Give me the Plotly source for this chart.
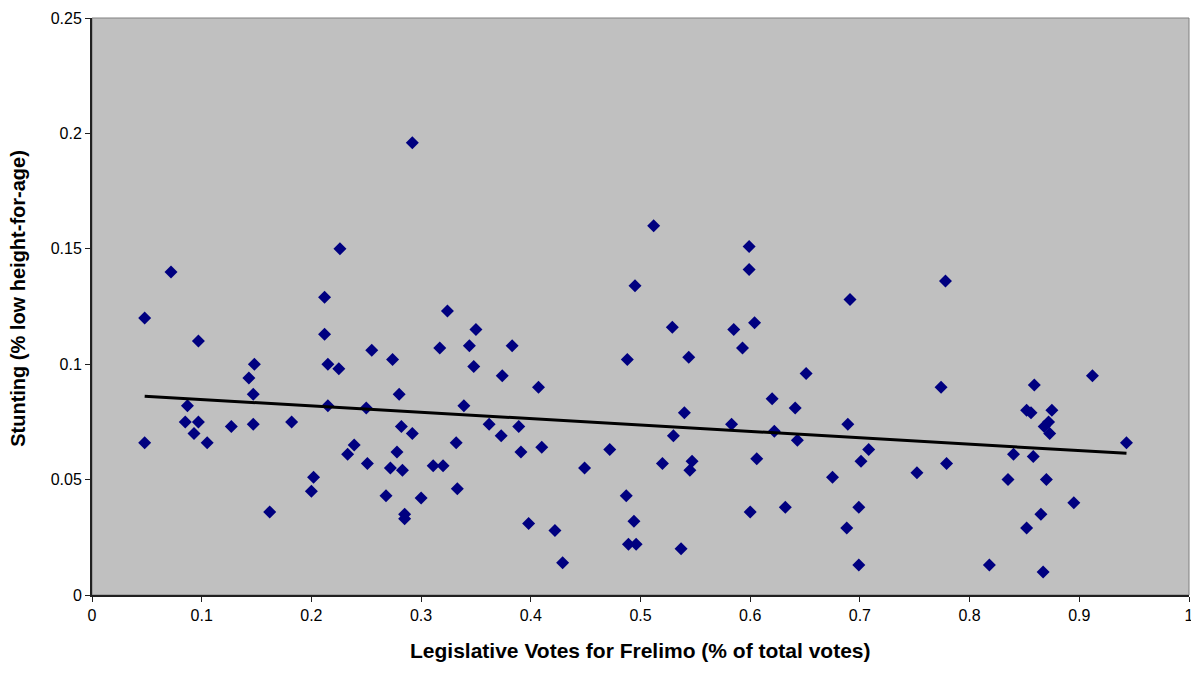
import numpy as np
import plotly.graph_objects as go

votes = [0.048, 0.048, 0.072, 0.085, 0.087, 0.093, 0.097, 0.097, 0.105, 0.127,
         0.143, 0.147, 0.148, 0.147, 0.162, 0.182, 0.200, 0.202, 0.212, 0.212,
         0.215, 0.215, 0.225, 0.226, 0.233, 0.239, 0.250, 0.251, 0.255, 0.268,
         0.272, 0.274, 0.278, 0.280, 0.282, 0.283, 0.285, 0.285, 0.292, 0.292,
         0.300, 0.311, 0.317, 0.320, 0.324, 0.332, 0.333, 0.339, 0.344, 0.348,
         0.350, 0.362, 0.373, 0.374, 0.383, 0.389, 0.391, 0.398, 0.407, 0.410,
         0.422, 0.429, 0.449, 0.472, 0.487, 0.488, 0.489, 0.494, 0.495, 0.496,
         0.512, 0.520, 0.529, 0.530, 0.537, 0.540, 0.544, 0.545, 0.547, 0.583,
         0.585, 0.593, 0.599, 0.599, 0.600, 0.604, 0.606, 0.620, 0.622, 0.632,
         0.641, 0.643, 0.651, 0.675, 0.688, 0.689, 0.691, 0.699, 0.699, 0.701,
         0.708, 0.752, 0.774, 0.778, 0.779, 0.818, 0.835, 0.840, 0.852, 0.852,
         0.856, 0.858, 0.859, 0.865, 0.867, 0.868, 0.870, 0.872, 0.873, 0.875,
         0.895, 0.912, 0.943]

stunting = [0.120, 0.066, 0.140, 0.075, 0.082, 0.070, 0.075, 0.110, 0.066, 0.073,
            0.094, 0.087, 0.100, 0.074, 0.036, 0.075, 0.045, 0.051, 0.129, 0.113,
            0.100, 0.082, 0.098, 0.150, 0.061, 0.065, 0.081, 0.057, 0.106, 0.043,
            0.055, 0.102, 0.062, 0.087, 0.073, 0.054, 0.035, 0.033, 0.196, 0.070,
            0.042, 0.056, 0.107, 0.056, 0.123, 0.066, 0.046, 0.082, 0.108, 0.099,
            0.115, 0.074, 0.069, 0.095, 0.108, 0.073, 0.062, 0.031, 0.090, 0.064,
            0.028, 0.014, 0.055, 0.063, 0.043, 0.102, 0.022, 0.032, 0.134, 0.022,
            0.160, 0.057, 0.116, 0.069, 0.020, 0.079, 0.103, 0.054, 0.058, 0.074,
            0.115, 0.107, 0.151, 0.141, 0.036, 0.118, 0.059, 0.085, 0.071, 0.038,
            0.081, 0.067, 0.096, 0.051, 0.029, 0.074, 0.128, 0.038, 0.013, 0.058,
            0.063, 0.053, 0.090, 0.136, 0.057, 0.013, 0.050, 0.061, 0.080, 0.029,
            0.079, 0.060, 0.091, 0.035, 0.010, 0.073, 0.050, 0.075, 0.070, 0.080,
            0.040, 0.095, 0.066]

x_ticks = [0, 0.1, 0.2, 0.3, 0.4, 0.5, 0.6, 0.7, 0.8, 0.9, 1]
x_tick_labels = ["0", "0.1", "0.2", "0.3", "0.4", "0.5", "0.6", "0.7", "0.8", "0.9", "1"]
y_ticks = [0, 0.05, 0.1, 0.15, 0.2, 0.25]
y_tick_labels = ["0", "0.05", "0.1", "0.15", "0.2", "0.25"]

x_title = "Legislative Votes for Frelimo (% of total votes)"
y_title = "Stunting (% low height-for-age)"

vx = np.array(votes)
vy = np.array(stunting)
slope, intercept = np.polyfit(vx, vy, 1)
tx = np.array([vx.min(), vx.max()])
ty = slope * tx + intercept

fig = go.Figure()
fig.add_trace(go.Scatter(
    x=votes, y=stunting, mode="markers",
    marker=dict(symbol="diamond", size=10, color="#000080",
                line=dict(width=0)),
    showlegend=False, hoverinfo="x+y"))
fig.add_trace(go.Scatter(
    x=tx, y=ty, mode="lines",
    line=dict(color="black", width=3),
    showlegend=False, hoverinfo="skip"))

font_family = "Liberation Sans, Arial, sans-serif"
fig.update_layout(
    width=1191, height=669,
    margin=dict(l=84, r=10, t=10, b=82, autoexpand=False),
    paper_bgcolor="white",
    plot_bgcolor="#C0C0C0",
    font=dict(family=font_family, size=16, color="black"),
    shapes=[dict(type="rect", xref="paper", yref="paper", x0=0, y0=0, x1=1, y1=1,
                 line=dict(color="#808080", width=1), layer="below")],
    annotations=[
        dict(text="<b>" + x_title + "</b>", xref="paper", yref="paper",
             x=0.5, y=-0.097, xanchor="center", yanchor="middle",
             showarrow=False, font=dict(size=21)),
        dict(text="<b>" + y_title + "</b>", xref="paper", yref="paper",
             x=-0.0675, y=0.515, xanchor="center", yanchor="middle",
             textangle=-90, showarrow=False, font=dict(size=20)),
    ],
)
fig.update_xaxes(
    range=[0, 1], tickvals=x_ticks, ticktext=x_tick_labels,
    showgrid=False, zeroline=False, automargin=False,
    showline=True, linecolor="#202020", linewidth=2,
    ticks="outside", ticklen=5, tickcolor="#202020", tickwidth=1,
    tickfont=dict(size=16),
)
fig.update_yaxes(
    range=[0, 0.25], tickvals=y_ticks, ticktext=y_tick_labels,
    showgrid=False, zeroline=False, automargin=False,
    showline=True, linecolor="#202020", linewidth=2,
    ticks="outside", ticklen=5, tickcolor="#202020", tickwidth=1,
    tickfont=dict(size=16),
)

fig.write_html("out.html")
